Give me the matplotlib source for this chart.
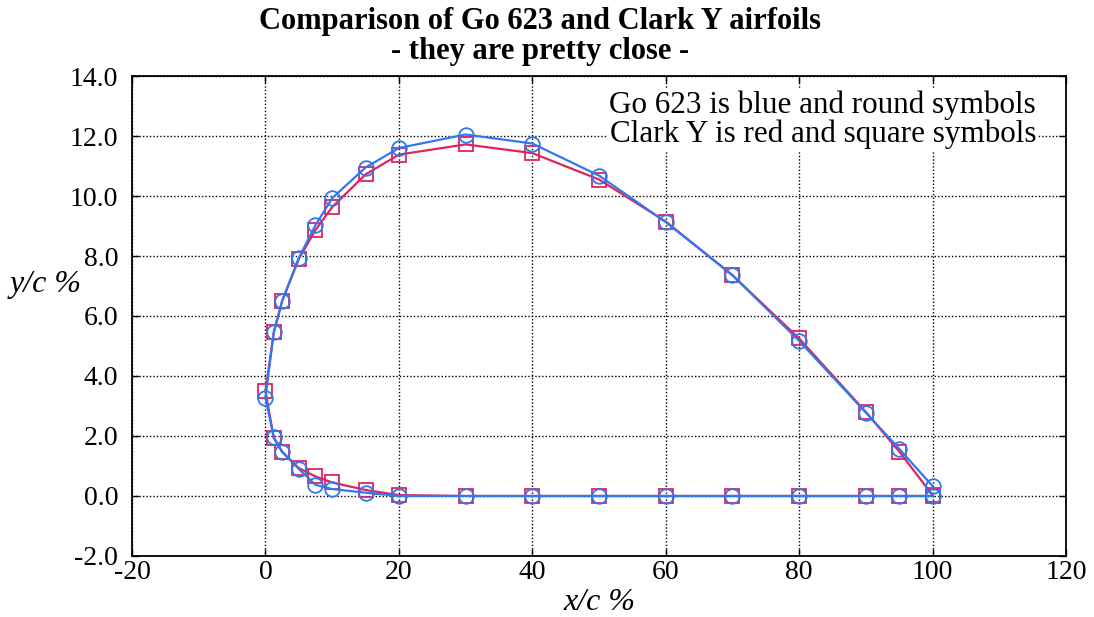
import matplotlib
matplotlib.use("Agg")
import matplotlib.pyplot as plt

# coordenadas em % da corda
x_pts = [0, 1.25, 2.5, 5, 7.5, 10, 15, 20, 30, 40, 50, 60, 70, 80, 90, 95, 100]

# Go 623 (azul, circulos)
go_upper = [3.28, 5.47, 6.5, 7.94, 9.03, 9.93, 10.95, 11.6, 12.05, 11.75, 10.68, 9.13, 7.36, 5.17, 2.78, 1.57, 0.33]
go_lower = [3.28, 1.95, 1.48, 0.9, 0.37, 0.23, 0.11, 0.0, 0, 0, 0, 0, 0, 0, 0, 0, 0]

# Clark Y (vermelho, quadrados)
clark_upper = [3.5, 5.45, 6.5, 7.9, 8.87, 9.63, 10.72, 11.38, 11.72, 11.43, 10.55, 9.15, 7.36, 5.25, 2.8, 1.48, 0.03]
clark_lower = [3.5, 1.93, 1.47, 0.93, 0.65, 0.45, 0.2, 0.03, 0, 0, 0, 0, 0, 0, 0, 0, 0]

x_ticks = [-20, 0, 20, 40, 60, 80, 100, 120]
y_ticks = [-2, 0, 2, 4, 6, 8, 10, 12, 14]

RED = "#e0245a"
BLUE = "#2f78f0"

plt.rcParams["font.family"] = ["Liberation Serif", "DejaVu Serif"]

fig = plt.figure(figsize=(10.94, 6.17), dpi=100)
ax = fig.add_axes([0.1207, 0.0989, 0.8537, 0.7779])

# contorno completo: extradorso do bordo de fuga ao de ataque, depois intradorso
cx = x_pts[::-1] + x_pts[1:]
clark_y = clark_upper[::-1] + clark_lower[1:]
go_y = go_upper[::-1] + go_lower[1:]

ax.plot(cx, clark_y, color=RED, lw=1.6, marker="s", ms=10.5, mfc="none", mec=RED, mew=1.3, zorder=3)
ax.plot(cx, go_y, color=BLUE, lw=1.6, marker="o", ms=10.5, mfc="none", mec=BLUE, mew=1.3, zorder=4)

ax.set_xlim(-20, 120)
ax.set_ylim(-2, 14)
ax.set_xticks(x_ticks)
ax.set_xticklabels([str(v) for v in x_ticks])
ax.set_yticks(y_ticks)
ax.set_yticklabels(["%.1f" % v for v in y_ticks])
ax.tick_params(direction="in", top=True, right=True, labelsize=20, length=5, width=1)
ax.tick_params(axis="x", pad=3)
ax.tick_params(axis="y", pad=10)
ax.grid(True, color="black", linestyle=(0, (1, 1.5)), linewidth=1)
for s in ax.spines.values():
    s.set_linewidth(1.3)

ax.set_xlabel("x/c %", fontsize=23, style="italic", labelpad=2)
ax.set_ylabel("y/c %", fontsize=23, style="italic", rotation=0)
ax.yaxis.set_label_coords(-0.093, 0.565)
ax.yaxis.label.set_ha("center")
ax.yaxis.label.set_va("center")

# titulo centrado na figura (nao no eixo)
fig.text(0.4936, 1 - 22 / 617, "Comparison of Go 623 and Clark Y airfoils",
         fontsize=22, fontweight="bold", ha="center", va="center")
fig.text(0.4936, 1 - 52 / 617, "- they are pretty close -",
         fontsize=22, fontweight="bold", ha="center", va="center")

ax.text(0.968, 0.97, "Go 623 is blue and round symbols\nClark Y is red and square symbols",
        transform=ax.transAxes, ha="right", va="top", fontsize=22.4, linespacing=1.0,
        bbox=dict(facecolor="white", edgecolor="none", pad=1), zorder=5)

fig.savefig("out.png", dpi=100)
